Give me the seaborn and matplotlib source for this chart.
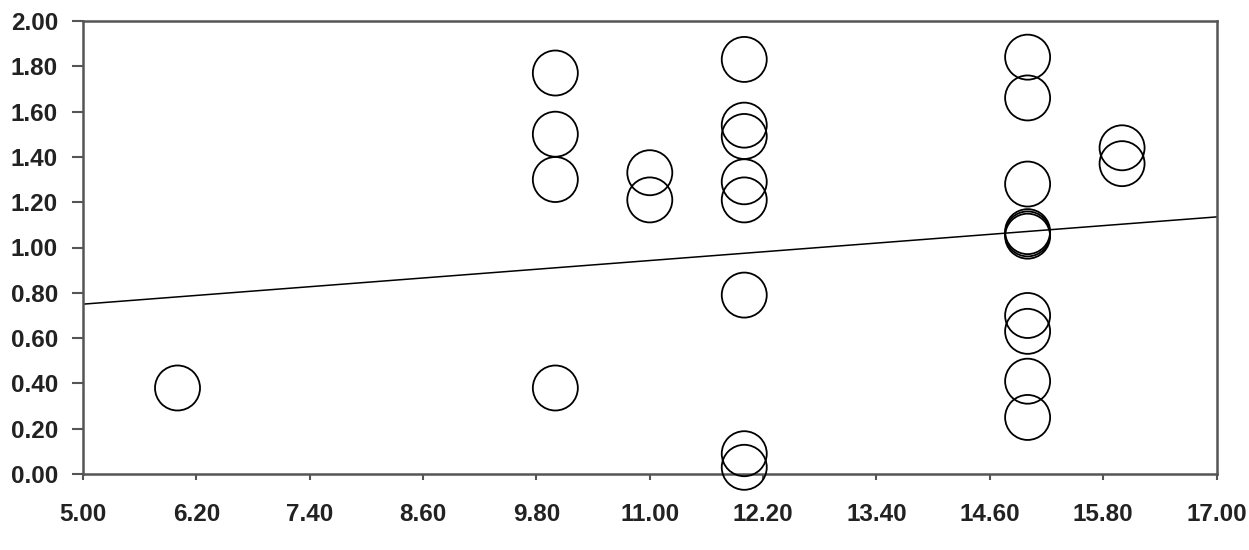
import matplotlib
matplotlib.use("Agg")
import matplotlib.pyplot as plt
import pandas as pd
import seaborn as sns

# values
x_vals = [6.0,
          10.0, 10.0, 10.0, 10.0,
          11.0, 11.0,
          12.0, 12.0, 12.0, 12.0, 12.0, 12.0, 12.0, 12.0,
          15.0, 15.0, 15.0, 15.0, 15.0, 15.0, 15.0, 15.0, 15.0, 15.0,
          16.0, 16.0]
y_vals = [0.38,
          1.77, 1.50, 1.30, 0.38,
          1.33, 1.21,
          1.83, 1.54, 1.49, 1.29, 1.21, 0.79, 0.09, 0.03,
          1.84, 1.66, 1.28, 1.07, 1.06, 1.05, 0.70, 0.63, 0.41, 0.25,
          1.44, 1.37]

fit_x = [5.0, 17.0]
fit_y = [0.75, 1.135]

x_ticks = [5.0, 6.2, 7.4, 8.6, 9.8, 11.0, 12.2, 13.4, 14.6, 15.8, 17.0]
y_ticks = [0.0, 0.2, 0.4, 0.6, 0.8, 1.0, 1.2, 1.4, 1.6, 1.8, 2.0]

df = pd.DataFrame({"x": x_vals, "y": y_vals})
fit = pd.DataFrame({"x": fit_x, "y": fit_y})

sns.set_style("ticks")
plt.rcParams["font.family"] = ["Liberation Sans", "DejaVu Sans"]

fig = plt.figure(figsize=(12.49, 5.5), dpi=100)
ax = fig.add_axes([0.0665, 0.138, 0.9075, 0.824])

sns.lineplot(data=fit, x="x", y="y", color="black", linewidth=1.1, ax=ax)
sns.scatterplot(data=df, x="x", y="y", s=1050, facecolors="none",
                edgecolor="black", linewidth=1.3, ax=ax, zorder=3,
                clip_on=False)

ax.set_xlim(5.0, 17.0)
ax.set_ylim(0.0, 2.0)
ax.set_xticks(x_ticks)
ax.set_yticks(y_ticks)
ax.set_xticklabels([f"{v:.2f}" for v in x_ticks])
ax.set_yticklabels([f"{v:.2f}" for v in y_ticks])
ax.set_xlabel("")
ax.set_ylabel("")

for side in ["left", "bottom", "top", "right"]:
    ax.spines[side].set_visible(True)
    ax.spines[side].set_color("#555555")
    ax.spines[side].set_linewidth(1.8)

ax.tick_params(axis="x", length=4, width=1.5, color="#555555", pad=17,
               labelsize=17.5, labelcolor="#222222")
ax.tick_params(axis="y", length=8, width=1.5, color="#555555", pad=10,
               labelsize=17.5, labelcolor="#222222")
for lab in ax.get_xticklabels() + ax.get_yticklabels():
    lab.set_fontweight("bold")

fig.savefig("out.png", dpi=100)
plt.close(fig)
